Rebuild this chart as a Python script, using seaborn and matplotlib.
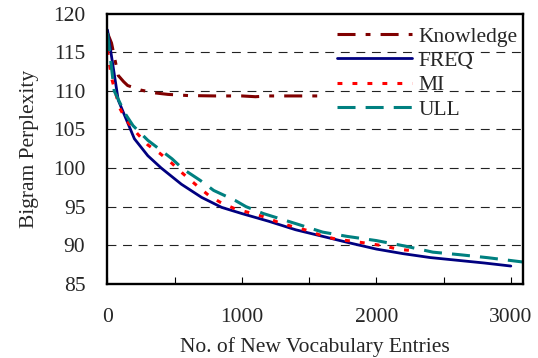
import numpy as np
import pandas as pd
import matplotlib
matplotlib.use("Agg")
import matplotlib.pyplot as plt
import seaborn as sns
from matplotlib.ticker import MultipleLocator

# ---- data ----
know_x = [0, 30, 80, 120, 150, 250, 350, 450, 600, 800, 1000, 1100, 1200, 1400, 1560]
know_y = [117.5, 116.2, 112.0, 111.2, 110.7, 110.1, 109.75, 109.55, 109.4, 109.35, 109.35, 109.25, 109.35, 109.35, 109.35]

freq_x = [0, 80, 200, 300, 400, 550, 700, 850, 1000, 1200, 1400, 1600, 1800, 2000, 2200, 2400, 2600, 2800, 3000]
freq_y = [117.9, 108.8, 103.8, 101.6, 100.0, 97.9, 96.2, 94.9, 94.1, 93.1, 92.0, 91.15, 90.3, 89.5, 88.9, 88.4, 88.05, 87.7, 87.3]

mi_x = [0, 30, 90, 140, 220, 300, 390, 480, 560, 660, 750, 835, 950, 1060, 1170, 1280, 1380, 1490, 1600, 1710, 1830, 1950, 2060, 2170, 2270]
mi_y = [115.3, 111.7, 107.8, 106.2, 104.5, 103.0, 101.9, 100.6, 99.3, 97.8, 96.5, 95.6, 94.7, 94.2, 93.65, 92.9, 92.4, 91.9, 91.2, 90.75, 90.5, 90.2, 89.9, 89.45, 89.3]

ull_x = [0, 50, 130, 190, 300, 480, 560, 690, 790, 950, 1030, 1160, 1400, 1600, 1780, 2000, 2210, 2420, 2620, 2830, 3100]
ull_y = [117.5, 110.0, 107.1, 105.5, 103.6, 101.2, 99.9, 98.4, 97.1, 95.8, 95.0, 94.1, 92.8, 91.7, 91.15, 90.6, 89.9, 89.1, 88.77, 88.38, 87.8]

series_names = ["Knowledge", "FREQ", "MI", "ULL"]
x_ticks = [0, 1000, 2000, 3000]
y_ticks = [85, 90, 95, 100, 105, 110, 115, 120]

# ---- style ----
sns.set_theme(style="white")
plt.rcParams["font.family"] = ["Liberation Serif", "DejaVu Serif"]
FS = 15.5
plt.rcParams["font.size"] = FS

fig = plt.figure(figsize=(5.38, 3.58), dpi=100)
ax = fig.add_axes([0.1998, 0.2073, 0.9720 - 0.1998, 0.9615 - 0.2073])

styles = {
    "Knowledge": dict(color="#800000", lw=2.2, ls=(0, (5.9, 3.3, 1.6, 3.3))),
    "FREQ": dict(color="#000080", lw=2.0, ls="-"),
    "MI": dict(color="#FF0000", lw=2.2, ls=(0, (1.6, 3.3))),
    "ULL": dict(color="#008080", lw=2.2, ls=(0, (5.9, 3.3))),
}
data = {
    "Knowledge": (know_x, know_y),
    "FREQ": (freq_x, freq_y),
    "MI": (mi_x, mi_y),
    "ULL": (ull_x, ull_y),
}

for name in series_names:
    xs, ys = data[name]
    df = pd.DataFrame({"x": xs, "y": ys})
    st = styles[name]
    sns.lineplot(data=df, x="x", y="y", ax=ax, color=st["color"], linewidth=st["lw"],
                 linestyle=st["ls"], label=name, errorbar=None, sort=False)

ax.set_xlim(0, 3090)
ax.set_ylim(85, 120)
ax.set_xticks(x_ticks)
ax.xaxis.set_minor_locator(MultipleLocator(500))
ax.set_yticks(y_ticks)

ax.grid(False)
for yv in y_ticks[1:-1]:
    ax.axhline(yv, color="#222222", lw=0.8, ls=(0, (8, 6)), zorder=0.5)

for sp in ax.spines.values():
    sp.set_visible(True)
    sp.set_color("black")
    sp.set_linewidth(1.7)

ax.tick_params(axis="x", which="both", direction="in", length=5, width=0.8, color="black",
               pad=17.5, labelsize=FS, bottom=True)
ax.tick_params(axis="y", which="both", length=0, pad=16, labelsize=FS)

ax.set_xlabel("No. of New Vocabulary Entries", fontsize=FS, labelpad=7)
ax.set_ylabel("Bigram Perplexity", fontsize=FS, labelpad=10)

leg = ax.legend(loc="upper right", bbox_to_anchor=(1.008, 0.985), frameon=False,
                handlelength=3.5, handletextpad=0.3, labelspacing=0.2,
                borderaxespad=0.0, fontsize=FS)

fig.savefig("out.png", dpi=100)
